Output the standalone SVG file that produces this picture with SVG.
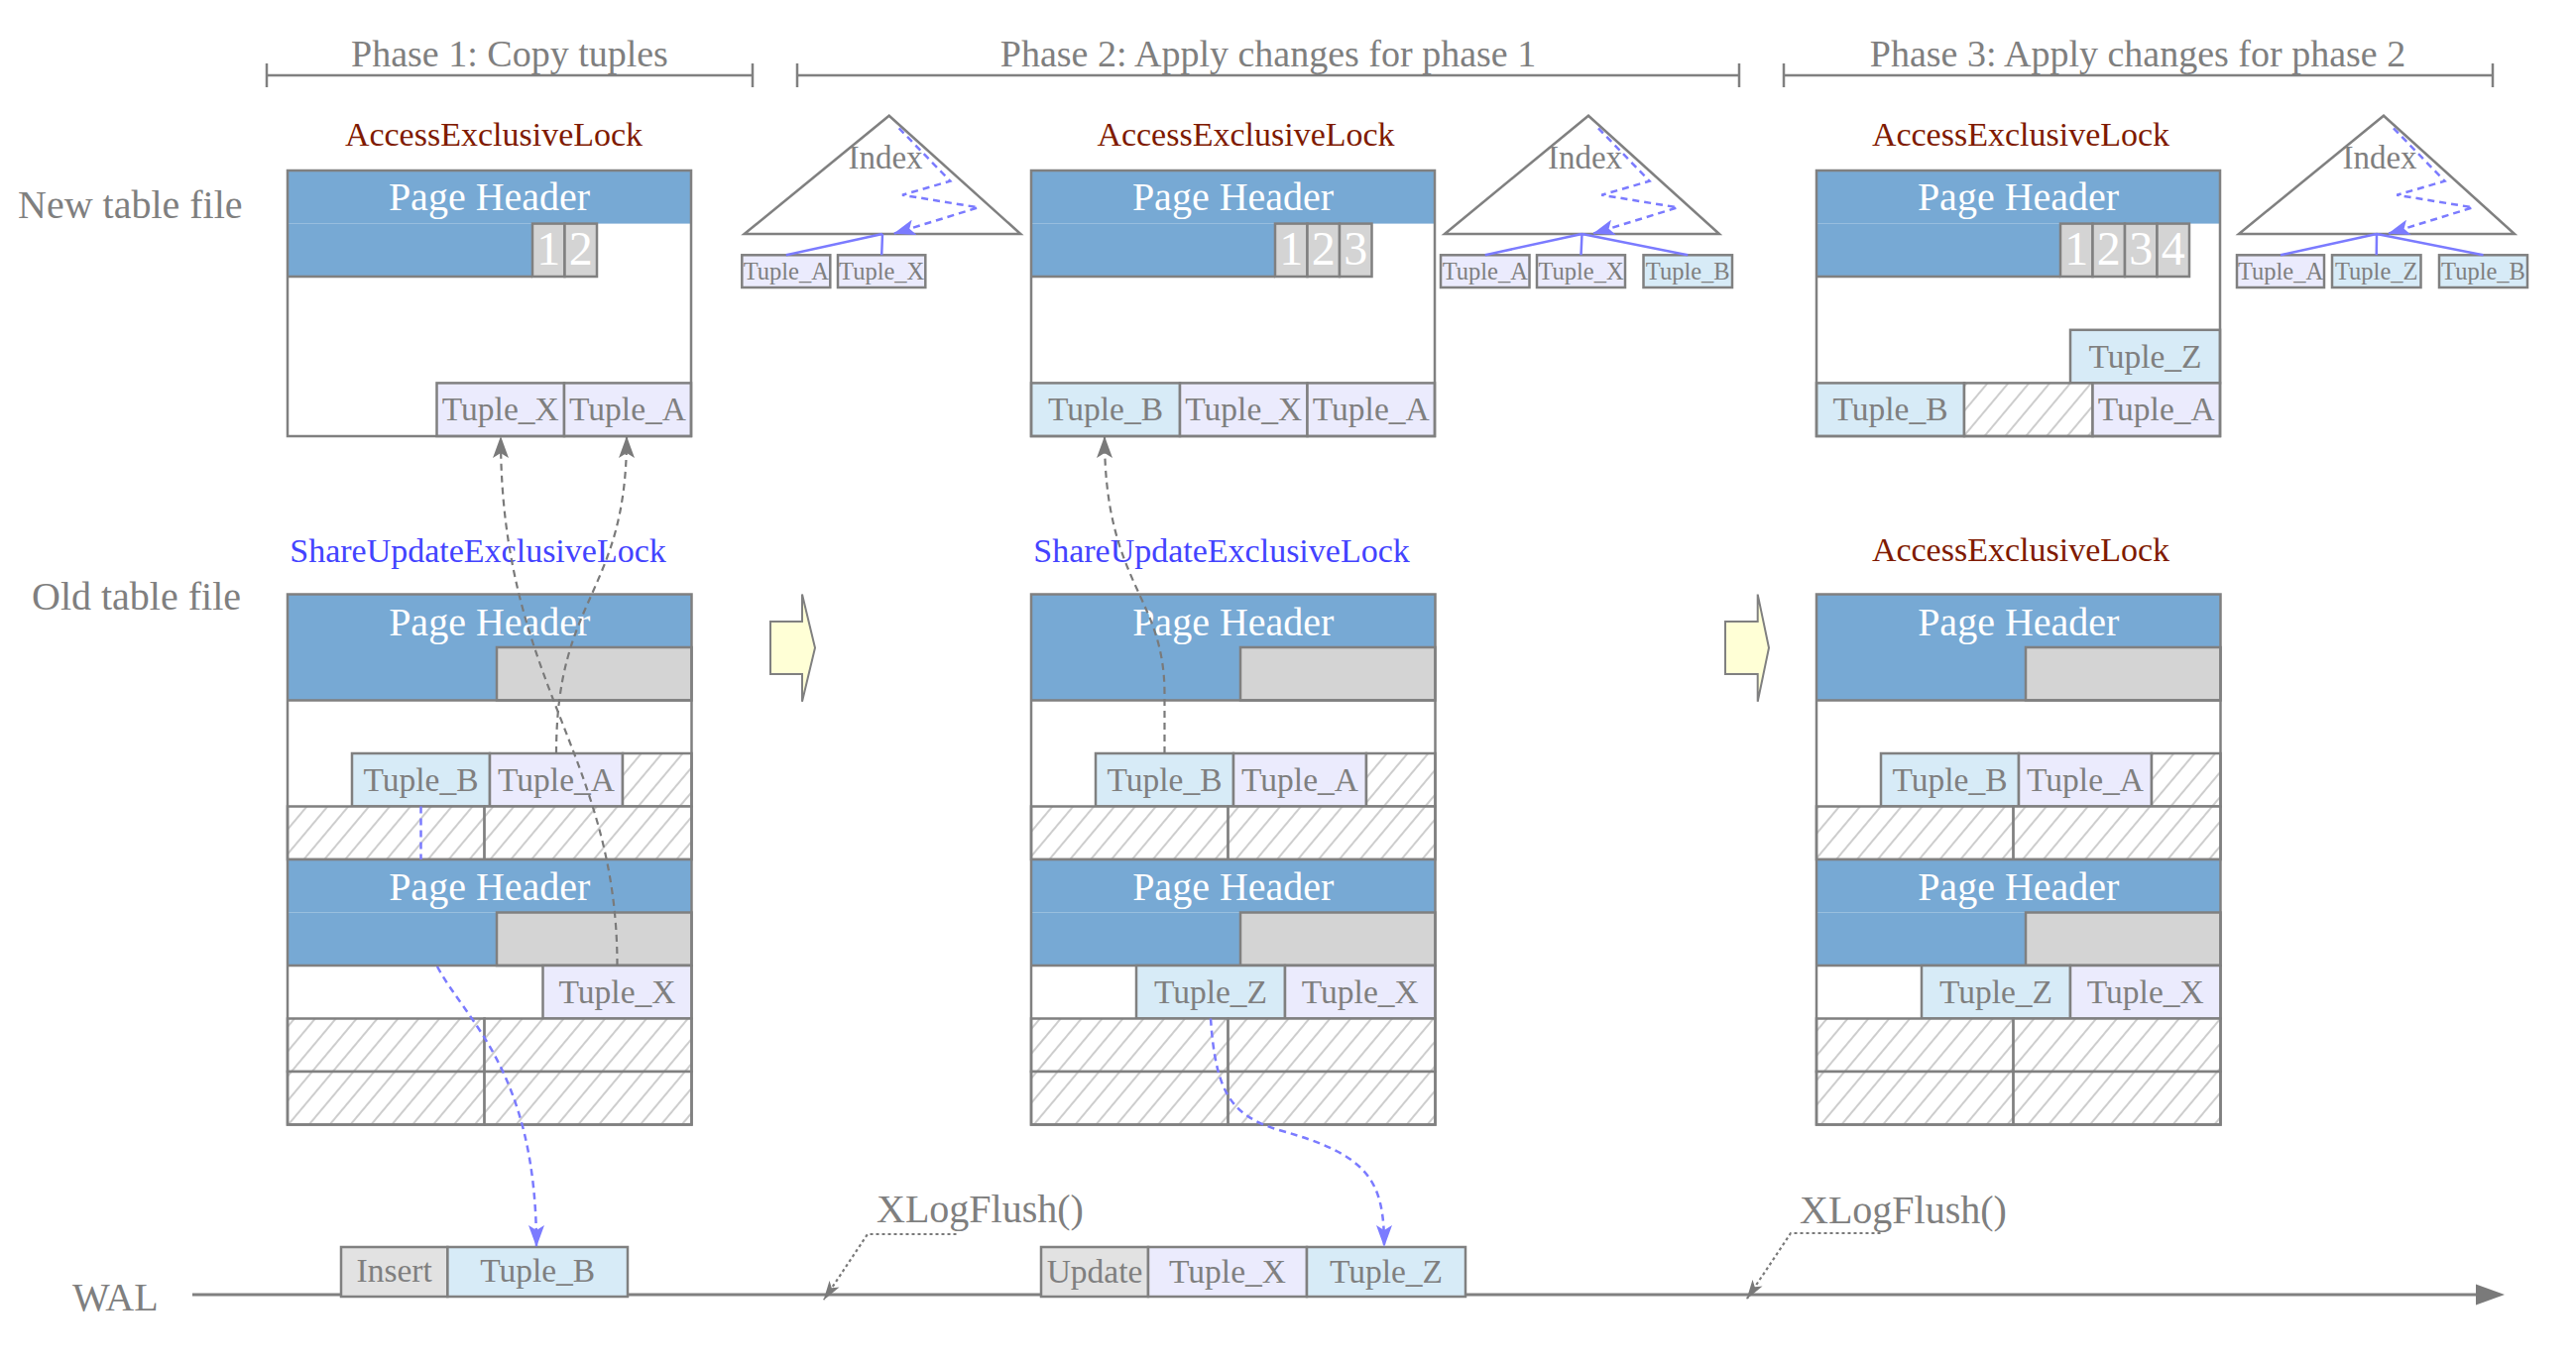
<svg xmlns="http://www.w3.org/2000/svg" width="2598" height="1378" viewBox="0 0 2598 1378">
<defs>
<style>
text{font-family:"Liberation Serif","Times New Roman",serif;fill:#7f7f7f}
.ph{font-size:38px;text-anchor:middle}
.lbl{font-size:40px}
.hdr{font-size:40px;fill:#fff;text-anchor:middle}
.tp{font-size:33.5px;text-anchor:middle}
.sm{font-size:24.5px;text-anchor:middle}
.num{font-size:48px;fill:#fff;text-anchor:middle}
.lockR{font-size:34px;fill:#7f1a00;text-anchor:middle}
.lockB{font-size:34px;fill:#4343ff;text-anchor:middle}
.ix{font-size:33px;text-anchor:middle}
.edge{fill:none;stroke:#808080;stroke-width:2.5}
.wbg{fill:#fff}
.blue{fill:#77a9d4}
.gry{fill:#d4d4d4;stroke:#808080;stroke-width:2.5}
.lav{fill:#ebebfd;stroke:#808080;stroke-width:2.5}
.lb{fill:#d7ebf7;stroke:#808080;stroke-width:2.5}
.hat{fill:url(#hatch);stroke:#808080;stroke-width:2.5}
.wal{fill:#e2e2e2;stroke:#808080;stroke-width:2.5}
.ln{stroke:#808080;stroke-width:2.5}
.tri{fill:#fff;stroke:#808080;stroke-width:2.5}
.yel{fill:#ffffd6;stroke:#808080;stroke-width:2}
.gd{fill:none;stroke:#7a7a7a;stroke-width:2.2;stroke-dasharray:7 5}
.bd{fill:none;stroke:#7b7bff;stroke-width:2.5;stroke-dasharray:7 5}
.bs{fill:none;stroke:#7b7bff;stroke-width:2.5}
.dot{fill:none;stroke:#7a7a7a;stroke-width:2.2;stroke-dasharray:3 3}
</style>
<pattern id="hatch" patternUnits="userSpaceOnUse" width="16" height="16" patternTransform="rotate(40)">
<rect width="16" height="16" fill="#fff"/>
<line x1="8" y1="0" x2="8" y2="16" stroke="#cdcdcd" stroke-width="2"/>
</pattern>
<marker id="ag" markerUnits="userSpaceOnUse" markerWidth="22" markerHeight="16" viewBox="0 0 22 16" refX="21" refY="8" orient="auto">
<path d="M0,0 L22,8 L0,16 L5,8 Z" fill="#7a7a7a"/>
</marker>
<marker id="ab" markerUnits="userSpaceOnUse" markerWidth="22" markerHeight="16" viewBox="0 0 22 16" refX="21" refY="8" orient="auto">
<path d="M0,0 L22,8 L0,16 L5,8 Z" fill="#7b7bff"/>
</marker>
<marker id="ags" markerUnits="userSpaceOnUse" markerWidth="20" markerHeight="12" viewBox="0 0 20 12" refX="19" refY="6" orient="auto">
<path d="M0,0 L20,6 L0,12 L5,6 Z" fill="#7a7a7a"/>
</marker>
</defs>
<rect width="2598" height="1378" fill="#fff"/>

<g id="phase-brackets">
<path class="ln" fill="none" d="M269 64V88M269 76H759M759 64V88"/>
<path class="ln" fill="none" d="M804 64V88M804 76H1754M1754 64V88"/>
<path class="ln" fill="none" d="M1799 64V88M1799 76H2514M2514 64V88"/>
<text class="ph" x="514" y="67">Phase 1: Copy tuples</text>
<text class="ph" x="1279" y="67">Phase 2: Apply changes for phase 1</text>
<text class="ph" x="2156" y="67">Phase 3: Apply changes for phase 2</text>
</g>

<g id="row-labels">
<text class="lbl" x="18" y="220">New table file</text>
<text class="lbl" x="32" y="615">Old table file</text>
<text class="lbl" x="73" y="1322">WAL</text>
</g>

<g id="locks">
<text class="lockR" x="498" y="147">AccessExclusiveLock</text>
<text class="lockR" x="1256.5" y="147">AccessExclusiveLock</text>
<text class="lockR" x="2038" y="147">AccessExclusiveLock</text>
<text class="lockB" x="482" y="567">ShareUpdateExclusiveLock</text>
<text class="lockB" x="1232" y="567">ShareUpdateExclusiveLock</text>
<text class="lockR" x="2038" y="566">AccessExclusiveLock</text>
</g>

<g id="new-table-phase1">
<rect class="wbg" x="290" y="172" width="407" height="268"/>
<rect class="blue" x="290" y="172" width="407" height="53.6"/>
<rect class="blue" x="290" y="225.6" width="247" height="53.4"/>
<line class="ln" x1="290" y1="279" x2="537" y2="279"/>
<rect class="gry" x="537" y="225.6" width="32.5" height="53.4"/>
<rect class="gry" x="569.5" y="225.6" width="32.5" height="53.4"/>
<text class="num" x="553.25" y="267">1</text>
<text class="num" x="585.75" y="267">2</text>
<text class="hdr" x="493.5" y="212">Page Header</text>
<rect class="lav" x="440.5" y="386.4" width="128.5" height="53.6"/>
<rect class="lav" x="569" y="386.4" width="128" height="53.6"/>
<text class="tp" x="504.75" y="424">Tuple_X</text>
<text class="tp" x="633" y="424">Tuple_A</text>
<rect class="edge" x="290" y="172" width="407" height="268"/>
</g>

<g id="new-table-phase2">
<rect class="wbg" x="1040" y="172" width="407" height="268"/>
<rect class="blue" x="1040" y="172" width="407" height="53.6"/>
<rect class="blue" x="1040" y="225.6" width="246" height="53.4"/>
<line class="ln" x1="1040" y1="279" x2="1286" y2="279"/>
<rect class="gry" x="1286" y="225.6" width="32.5" height="53.4"/>
<rect class="gry" x="1318.5" y="225.6" width="32.5" height="53.4"/>
<rect class="gry" x="1351" y="225.6" width="32.5" height="53.4"/>
<text class="num" x="1302.25" y="267">1</text>
<text class="num" x="1334.75" y="267">2</text>
<text class="num" x="1367.25" y="267">3</text>
<text class="hdr" x="1243.5" y="212">Page Header</text>
<rect class="lb" x="1040" y="386.4" width="150" height="53.6"/>
<rect class="lav" x="1190" y="386.4" width="128.5" height="53.6"/>
<rect class="lav" x="1318.5" y="386.4" width="128.5" height="53.6"/>
<text class="tp" x="1115" y="424">Tuple_B</text>
<text class="tp" x="1254.25" y="424">Tuple_X</text>
<text class="tp" x="1382.75" y="424">Tuple_A</text>
<rect class="edge" x="1040" y="172" width="407" height="268"/>
</g>

<g id="new-table-phase3">
<rect class="wbg" x="1832" y="172" width="407" height="268"/>
<rect class="blue" x="1832" y="172" width="407" height="53.6"/>
<rect class="blue" x="1832" y="225.6" width="246" height="53.4"/>
<line class="ln" x1="1832" y1="279" x2="2078" y2="279"/>
<rect class="gry" x="2078" y="225.6" width="32.5" height="53.4"/>
<rect class="gry" x="2110.5" y="225.6" width="32.5" height="53.4"/>
<rect class="gry" x="2143" y="225.6" width="32.5" height="53.4"/>
<rect class="gry" x="2175.5" y="225.6" width="32.5" height="53.4"/>
<text class="num" x="2094.25" y="267">1</text>
<text class="num" x="2126.75" y="267">2</text>
<text class="num" x="2159.25" y="267">3</text>
<text class="num" x="2191.75" y="267">4</text>
<text class="hdr" x="2035.5" y="212">Page Header</text>
<rect class="lb" x="2088" y="332.8" width="151" height="53.6"/>
<text class="tp" x="2163.5" y="371">Tuple_Z</text>
<rect class="lb" x="1832" y="386.4" width="149" height="53.6"/>
<rect class="hat" x="1981" y="386.4" width="129.5" height="53.6"/>
<rect class="lav" x="2110.5" y="386.4" width="128.5" height="53.6"/>
<text class="tp" x="1906.5" y="424">Tuple_B</text>
<text class="tp" x="2174.75" y="424">Tuple_A</text>
<rect class="edge" x="1832" y="172" width="407" height="268"/>
</g>

<g id="index-phase1">
<path class="tri" d="M750.7 236L896.7 116.7L1029.3 236Z"/>
<text class="ix" x="893" y="170">Index</text>
<rect class="lav" x="748.3" y="257.3" width="89" height="32.7"/>
<rect class="lav" x="845" y="257.3" width="88.3" height="32.7"/>
<text class="sm" x="792.8" y="281.7">Tuple_A</text>
<text class="sm" x="889.2" y="281.7">Tuple_X</text>
</g>

<g id="index-phase2">
<path class="tri" d="M1457 236L1602 116.7L1734 236Z"/>
<text class="ix" x="1598.5" y="170">Index</text>
<rect class="lav" x="1453" y="257.3" width="89.5" height="32.7"/>
<rect class="lav" x="1550" y="257.3" width="89" height="32.7"/>
<rect class="lb" x="1657.5" y="257.3" width="89.5" height="32.7"/>
<text class="sm" x="1497.75" y="281.7">Tuple_A</text>
<text class="sm" x="1594.5" y="281.7">Tuple_X</text>
<text class="sm" x="1702.25" y="281.7">Tuple_B</text>
</g>

<g id="index-phase3">
<path class="tri" d="M2258 236L2404 116.7L2536 236Z"/>
<text class="ix" x="2400" y="170">Index</text>
<rect class="lav" x="2256" y="257.3" width="88" height="32.7"/>
<rect class="lb" x="2352" y="257.3" width="89.5" height="32.7"/>
<rect class="lb" x="2460" y="257.3" width="89" height="32.7"/>
<text class="sm" x="2300" y="281.7">Tuple_A</text>
<text class="sm" x="2396.75" y="281.7">Tuple_Z</text>
<text class="sm" x="2504.5" y="281.7">Tuple_B</text>
</g>

<g id="old-table-phase1">
<rect class="wbg" x="290" y="599.5" width="407.5" height="535"/>
<rect class="blue" x="290" y="599.5" width="407.5" height="53.5"/>
<rect class="blue" x="290" y="653" width="211" height="53.5"/>
<rect class="gry" x="501" y="653" width="196.5" height="53.5"/>
<line class="ln" x1="290" y1="706.5" x2="697.5" y2="706.5"/>
<rect class="lb" x="355" y="760" width="139" height="53.5"/>
<rect class="lav" x="494" y="760" width="134" height="53.5"/>
<rect class="hat" x="628" y="760" width="69.5" height="53.5"/>
<rect class="hat" x="290" y="813.5" width="198.6" height="53.5"/>
<rect class="hat" x="488.6" y="813.5" width="208.9" height="53.5"/>
<rect class="blue" x="290" y="867" width="407.5" height="53.5"/>
<rect class="blue" x="290" y="920.5" width="211" height="53.5"/>
<rect class="gry" x="501" y="920.5" width="196.5" height="53.5"/>
<line class="ln" x1="290" y1="974" x2="697.5" y2="974"/>
<rect class="lav" x="547.5" y="974" width="150" height="53.5"/>
<rect class="hat" x="290" y="1027.5" width="198.6" height="53.5"/>
<rect class="hat" x="488.6" y="1027.5" width="208.9" height="53.5"/>
<rect class="hat" x="290" y="1081" width="198.6" height="53.5"/>
<rect class="hat" x="488.6" y="1081" width="208.9" height="53.5"/>
<line class="ln" x1="290" y1="867" x2="697.5" y2="867"/>
<rect class="edge" x="290" y="599.5" width="407.5" height="535"/>
<text class="hdr" x="493.75" y="641">Page Header</text>
<text class="tp" x="424.5" y="798">Tuple_B</text>
<text class="tp" x="561" y="798">Tuple_A</text>
<text class="hdr" x="493.75" y="908">Page Header</text>
<text class="tp" x="622.5" y="1012">Tuple_X</text>
</g>

<g id="old-table-phase2">
<rect class="wbg" x="1040" y="599.5" width="407.5" height="535"/>
<rect class="blue" x="1040" y="599.5" width="407.5" height="53.5"/>
<rect class="blue" x="1040" y="653" width="211" height="53.5"/>
<rect class="gry" x="1251" y="653" width="196.5" height="53.5"/>
<line class="ln" x1="1040" y1="706.5" x2="1447.5" y2="706.5"/>
<rect class="lb" x="1105" y="760" width="139" height="53.5"/>
<rect class="lav" x="1244" y="760" width="134" height="53.5"/>
<rect class="hat" x="1378" y="760" width="69.5" height="53.5"/>
<rect class="hat" x="1040" y="813.5" width="198.6" height="53.5"/>
<rect class="hat" x="1238.6" y="813.5" width="208.9" height="53.5"/>
<rect class="blue" x="1040" y="867" width="407.5" height="53.5"/>
<rect class="blue" x="1040" y="920.5" width="211" height="53.5"/>
<rect class="gry" x="1251" y="920.5" width="196.5" height="53.5"/>
<line class="ln" x1="1040" y1="974" x2="1447.5" y2="974"/>
<rect class="lb" x="1146" y="974" width="150" height="53.5"/>
<rect class="lav" x="1296" y="974" width="151.5" height="53.5"/>
<rect class="hat" x="1040" y="1027.5" width="198.6" height="53.5"/>
<rect class="hat" x="1238.6" y="1027.5" width="208.9" height="53.5"/>
<rect class="hat" x="1040" y="1081" width="198.6" height="53.5"/>
<rect class="hat" x="1238.6" y="1081" width="208.9" height="53.5"/>
<line class="ln" x1="1040" y1="867" x2="1447.5" y2="867"/>
<rect class="edge" x="1040" y="599.5" width="407.5" height="535"/>
<text class="hdr" x="1243.75" y="641">Page Header</text>
<text class="tp" x="1174.5" y="798">Tuple_B</text>
<text class="tp" x="1311" y="798">Tuple_A</text>
<text class="hdr" x="1243.75" y="908">Page Header</text>
<text class="tp" x="1221" y="1012">Tuple_Z</text>
<text class="tp" x="1371.75" y="1012">Tuple_X</text>
</g>

<g id="old-table-phase3">
<rect class="wbg" x="1832" y="599.5" width="407.5" height="535"/>
<rect class="blue" x="1832" y="599.5" width="407.5" height="53.5"/>
<rect class="blue" x="1832" y="653" width="211" height="53.5"/>
<rect class="gry" x="2043" y="653" width="196.5" height="53.5"/>
<line class="ln" x1="1832" y1="706.5" x2="2239.5" y2="706.5"/>
<rect class="lb" x="1897" y="760" width="139" height="53.5"/>
<rect class="lav" x="2036" y="760" width="134" height="53.5"/>
<rect class="hat" x="2170" y="760" width="69.5" height="53.5"/>
<rect class="hat" x="1832" y="813.5" width="198.6" height="53.5"/>
<rect class="hat" x="2030.6" y="813.5" width="208.9" height="53.5"/>
<rect class="blue" x="1832" y="867" width="407.5" height="53.5"/>
<rect class="blue" x="1832" y="920.5" width="211" height="53.5"/>
<rect class="gry" x="2043" y="920.5" width="196.5" height="53.5"/>
<line class="ln" x1="1832" y1="974" x2="2239.5" y2="974"/>
<rect class="lb" x="1938" y="974" width="150" height="53.5"/>
<rect class="lav" x="2088" y="974" width="151.5" height="53.5"/>
<rect class="hat" x="1832" y="1027.5" width="198.6" height="53.5"/>
<rect class="hat" x="2030.6" y="1027.5" width="208.9" height="53.5"/>
<rect class="hat" x="1832" y="1081" width="198.6" height="53.5"/>
<rect class="hat" x="2030.6" y="1081" width="208.9" height="53.5"/>
<line class="ln" x1="1832" y1="867" x2="2239.5" y2="867"/>
<rect class="edge" x="1832" y="599.5" width="407.5" height="535"/>
<text class="hdr" x="2035.75" y="641">Page Header</text>
<text class="tp" x="1966.5" y="798">Tuple_B</text>
<text class="tp" x="2103" y="798">Tuple_A</text>
<text class="hdr" x="2035.75" y="908">Page Header</text>
<text class="tp" x="2013" y="1012">Tuple_Z</text>
<text class="tp" x="2163.75" y="1012">Tuple_X</text>
</g>

<g id="phase-arrows">
<path class="yel" d="M777 627H809V599.6L822 653.5L809 707.8V680H777Z"/>
<path class="yel" d="M1740 627H1772.7V599.6L1784 653.5L1772.7 707.8V680H1740Z"/>
</g>

<g id="wal">
<line x1="194" y1="1306" x2="2500" y2="1306" stroke="#808080" stroke-width="3"/>
<path d="M2497 1295.5L2526 1306L2497 1316.5Z" fill="#7a7a7a"/>
<rect class="wal" x="344" y="1258" width="107.4" height="50"/>
<rect class="lb" x="451.4" y="1258" width="181.6" height="50"/>
<text class="tp" x="397.7" y="1293">Insert</text>
<text class="tp" x="542.2" y="1293">Tuple_B</text>
<rect class="wal" x="1050" y="1258" width="108" height="50"/>
<rect class="lav" x="1158" y="1258" width="160" height="50"/>
<rect class="lb" x="1318" y="1258" width="160" height="50"/>
<text class="tp" x="1104" y="1294">Update</text>
<text class="tp" x="1238" y="1294">Tuple_X</text>
<text class="tp" x="1398" y="1294">Tuple_Z</text>
</g>

<g id="xlogflush">
<text class="lbl" x="884" y="1233">XLogFlush()</text>
<text class="lbl" x="1815" y="1234">XLogFlush()</text>
</g>

<g id="connectors">
<path class="gd" marker-end="url(#ag)" d="M622.5 974C622.5 760 505 690 505 441"/>
<path class="gd" marker-end="url(#ag)" d="M561 760C561 600 632 600 632 441"/>
<path class="gd" marker-end="url(#ag)" d="M1174.5 760L1174.5 700C1174.5 600 1114 590 1114 441"/>
<path class="bd" marker-end="url(#ab)" d="M424.5 813.5L424.5 867M441 975C470 1030 541 1080 541 1257"/>
<path class="bd" marker-end="url(#ab)" d="M1221 1027.5C1226 1100 1240 1125 1290 1140C1380 1165 1396 1190 1396 1257"/>
<path class="bd" stroke-dasharray="6 5" marker-end="url(#ab)" d="M906.7 129.3L958.3 182.7L910 196.7L986.7 209.3L902 235.5"/>
<path class="bd" stroke-dasharray="6 5" marker-end="url(#ab)" d="M1612 129.3L1663.6 182.7L1615.3 196.7L1692 209.3L1607.3 235.5"/>
<path class="bd" stroke-dasharray="6 5" marker-end="url(#ab)" d="M2414 129.3L2465.6 182.7L2417.3 196.7L2494 209.3L2409.3 235.5"/>
<path class="bs" d="M890 236L792.8 257.3M890 236L889.2 257.3"/>
<path class="bs" d="M1595.5 236L1497.75 257.3M1595.5 236L1594.5 257.3M1595.5 236L1702.25 257.3"/>
<path class="bs" d="M2397 236L2300 257.3M2397 236L2396.75 257.3M2397 236L2504.5 257.3"/>
<path class="dot" marker-end="url(#ags)" d="M964.5 1245H875L831 1311"/>
<path class="dot" marker-end="url(#ags)" d="M1896.5 1244H1806L1762 1310"/>
</g>
</svg>
